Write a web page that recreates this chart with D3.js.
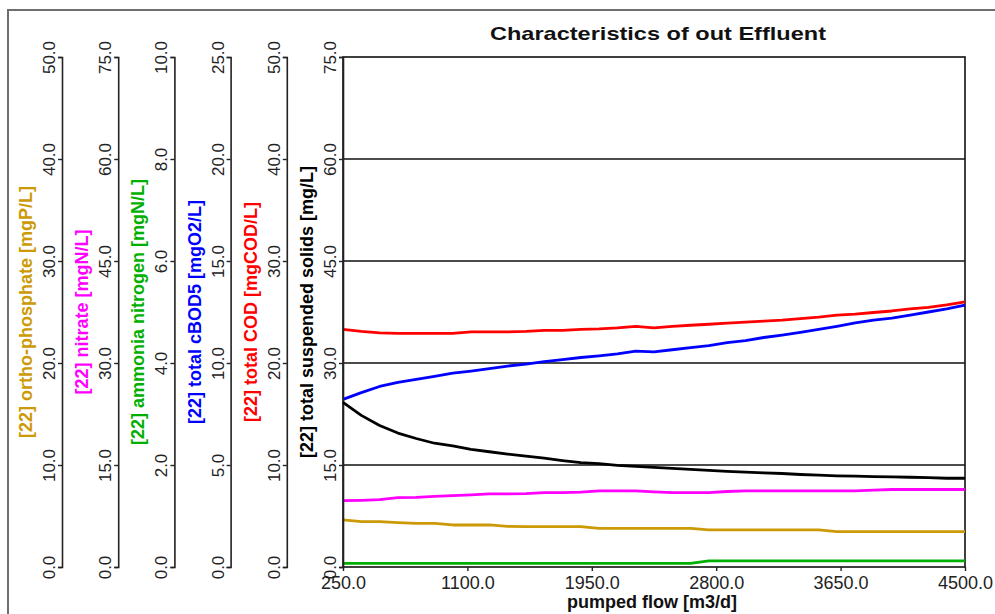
<!DOCTYPE html>
<html>
<head>
<meta charset="utf-8">
<script src="https://cdn.jsdelivr.net/npm/d3@7"></script>
<style>
  body { margin: 0; background: #fff; }
  svg { display: block; font-family: "Liberation Sans", Arial, sans-serif; }
</style>
</head>
<body>
<div id="chart-area"></div>
<script>
// pumped flow [m3/d]
const flow = [250, 375, 500, 625, 750, 875, 1000, 1125, 1250, 1375, 1500, 1625, 1750, 1875,
  2000, 2125, 2250, 2375, 2500, 2625, 2750, 2875, 3000, 3125, 3250, 3375, 3500, 3625,
  3750, 3875, 4000, 4125, 4250, 4375, 4500];
const flowTicks = [250, 1100, 1950, 2800, 3650, 4500];

const orthoP = [4.61, 4.44, 4.44, 4.36, 4.28, 4.28, 4.12, 4.12, 4.12, 3.98, 3.95, 3.95, 3.95, 3.95,
  3.79, 3.79, 3.79, 3.79, 3.79, 3.79, 3.63, 3.63, 3.63, 3.63, 3.63, 3.63, 3.63, 3.46,
  3.46, 3.46, 3.46, 3.46, 3.46, 3.46, 3.46];
const nitrate = [9.75, 9.8, 9.9, 10.2, 10.25, 10.4, 10.5, 10.6, 10.75, 10.75, 10.8, 10.95, 10.95, 11.0,
  11.2, 11.2, 11.2, 11.05, 10.95, 10.95, 10.95, 11.1, 11.2, 11.2, 11.2, 11.2, 11.2, 11.2,
  11.2, 11.3, 11.4, 11.4, 11.4, 11.4, 11.4];
const ammonia = [0.07, 0.07, 0.07, 0.07, 0.07, 0.07, 0.07, 0.07, 0.07, 0.07, 0.07, 0.07, 0.07, 0.07,
  0.07, 0.07, 0.07, 0.07, 0.07, 0.07, 0.12, 0.12, 0.12, 0.12, 0.12, 0.12, 0.12, 0.12,
  0.12, 0.12, 0.12, 0.12, 0.12, 0.12, 0.12];
const cBOD5 = [8.22, 8.55, 8.85, 9.05, 9.2, 9.35, 9.5, 9.6, 9.72, 9.85, 9.95, 10.07, 10.17, 10.27,
  10.35, 10.45, 10.58, 10.55, 10.65, 10.75, 10.85, 11.0, 11.1, 11.25, 11.37, 11.5, 11.65, 11.8,
  11.97, 12.1, 12.2, 12.35, 12.5, 12.65, 12.84];
const cod = [23.3, 23.1, 22.95, 22.9, 22.9, 22.9, 22.9, 23.05, 23.05, 23.05, 23.1, 23.2, 23.2, 23.3,
  23.35, 23.45, 23.6, 23.45, 23.6, 23.7, 23.8, 23.9, 24.0, 24.1, 24.2, 24.35, 24.5, 24.7,
  24.8, 24.95, 25.1, 25.3, 25.45, 25.7, 26.0];
const tss = [24.2, 22.3, 20.8, 19.7, 18.9, 18.2, 17.8, 17.3, 16.95, 16.6, 16.3, 16.0, 15.65, 15.35,
  15.2, 14.95, 14.8, 14.65, 14.5, 14.35, 14.2, 14.05, 13.95, 13.85, 13.75, 13.6, 13.5, 13.4,
  13.35, 13.3, 13.25, 13.2, 13.15, 13.05, 13.05];

const axisTitles = ["[22] ortho-phosphate [mgP/L]", "[22] nitrate [mgN/L]", "[22] ammonia nitrogen [mgN/L]",
  "[22] total cBOD5 [mgO2/L]", "[22] total COD [mgCOD/L]", "[22] total suspended solids [mg/L]"];
const axisMax = [50, 75, 10, 25, 50, 75];
const seriesColors = ["#cc9a06", "#ff00ff", "#00b000", "#0000ff", "#ff0000", "#000000"];
const seriesData = [orthoP, nitrate, ammonia, cBOD5, cod, tss];

const W = 995, H = 614;
const plot = { left: 343, right: 965, top: 57, bottom: 567 };
const axisGap = 56.2;

const svg = d3.select("#chart-area").append("svg")
  .attr("width", W).attr("height", H)
  .style("background-color", "#ffffff");

// outer frame
svg.append("rect")
  .attr("x", 8).attr("y", 10).attr("width", 1100).attr("height", 800)
  .attr("fill", "none").attr("stroke", "#6e6e6e").attr("stroke-width", 2);

const x = d3.scaleLinear().domain([250, 4500]).range([plot.left, plot.right]);

const fmt = d3.format(".1f");

// plot box + grid (main axis = TSS 0..75)
const yMain = d3.scaleLinear().domain([0, 75]).range([plot.bottom, plot.top]);
svg.append("g")
  .selectAll("line")
  .data([15, 30, 45, 60])
  .enter().append("line")
  .attr("x1", plot.left).attr("x2", plot.right)
  .attr("y1", d => yMain(d)).attr("y2", d => yMain(d))
  .attr("stroke", "#111").attr("stroke-width", 1.3);

svg.append("rect")
  .attr("x", plot.left).attr("y", plot.top)
  .attr("width", plot.right - plot.left).attr("height", plot.bottom - plot.top)
  .attr("fill", "none").attr("stroke", "#111").attr("stroke-width", 1.6);

// the six y axes
seriesData.forEach((data, i) => {
  const ax = plot.left - (5 - i) * axisGap;
  const y = d3.scaleLinear().domain([0, axisMax[i]]).range([plot.bottom, plot.top]);
  const ticks = d3.range(0, 6).map(k => k * axisMax[i] / 5);

  const g = svg.append("g")
    .attr("transform", `translate(${ax},0)`)
    .call(d3.axisLeft(y).tickValues(ticks).tickFormat(fmt).tickSize(4).tickSizeOuter(4));

  g.select(".domain").attr("stroke", "#222").attr("stroke-width", 1.6);
  g.selectAll(".tick line").attr("stroke", "#222").attr("stroke-width", 1.4);
  g.selectAll(".tick text")
    .attr("x", null).attr("dy", null)
    .attr("transform", "translate(-7,0) rotate(-90)")
    .attr("text-anchor", "middle")
    .attr("fill", "#222")
    .style("font-size", "17px")
    .style("font-family", "'Liberation Sans', Arial, sans-serif");

  svg.append("text")
    .attr("transform", `translate(${ax - 30},${(plot.top + plot.bottom) / 2}) rotate(-90)`)
    .attr("text-anchor", "middle")
    .attr("fill", seriesColors[i])
    .style("font-size", "18px")
    .style("font-weight", "bold")
    .text(axisTitles[i]);

  const line = d3.line()
    .x((d, k) => x(flow[k]))
    .y(d => y(d));

  svg.append("path")
    .datum(data)
    .attr("d", line)
    .attr("fill", "none")
    .attr("stroke", seriesColors[i])
    .attr("stroke-width", 2.8)
    .attr("stroke-linejoin", "round");
});

// x axis
const gx = svg.append("g")
  .attr("transform", `translate(0,${plot.bottom})`)
  .call(d3.axisBottom(x).tickValues(flowTicks).tickFormat(fmt).tickSize(4).tickPadding(5));
gx.select(".domain").remove();
gx.selectAll(".tick line").attr("stroke", "#222").attr("stroke-width", 1.4);
gx.selectAll(".tick text")
  .attr("fill", "#222")
  .style("font-size", "18px")
  .style("font-family", "'Liberation Sans', Arial, sans-serif");

svg.append("text")
  .attr("x", 652).attr("y", 608)
  .attr("text-anchor", "middle")
  .style("font-size", "18px").style("font-weight", "bold")
  .attr("fill", "#111")
  .text("pumped flow [m3/d]");

// title
svg.append("text")
  .attr("x", 490).attr("y", 40)
  .attr("textLength", 336).attr("lengthAdjust", "spacingAndGlyphs")
  .style("font-size", "19px").style("font-weight", "bold")
  .attr("fill", "#111")
  .text("Characteristics of out Effluent");
</script>
</body>
</html>
